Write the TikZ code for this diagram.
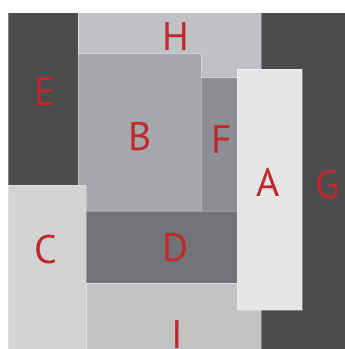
\documentclass[tikz,border=0pt]{standalone}
\usepackage{fontspec}
\setmainfont{PT Sans}
\definecolor{cdark}{HTML}{4B4C4E}
\definecolor{cH}{HTML}{C0C1C4}
\definecolor{cB}{HTML}{A7A8AB}
\definecolor{cF}{HTML}{8E8F92}
\definecolor{cA}{HTML}{E5E6E8}
\definecolor{cC}{HTML}{D2D3D5}
\definecolor{cD}{HTML}{727376}
\definecolor{cI}{HTML}{C2C3C5}
\definecolor{lbl}{HTML}{BE2A2C}
\tikzset{
  blk/.style={fill=#1, draw=white, draw opacity=0.3, line width=0.7bp},
  letter/.style={anchor=base, inner sep=0pt, text=lbl, font=\fontsize{40}{40}\selectfont}
}
\begin{document}
\begin{tikzpicture}[x=1bp,y=-1bp]
\useasboundingbox (0,0) rectangle (345,349);
\clip (0,0) rectangle (345,349);
\fill[white] (0,0) rectangle (345,349);
% background blocks
\path[blk=cH] (78,12.7) rectangle (261,211);
\path[blk=cI] (86.3,283) rectangle (261,352);
\path[blk=cdark] (8,12.7) rectangle (78,185.3);
\path[blk=cdark] (261,12.7) rectangle (350,352);
\path[blk=cB] (78,53.7) rectangle (201,211);
\path[blk=cF] (201,77.7) rectangle (237,211);
\path[blk=cC] (8,185.3) rectangle (86.3,352);
\path[blk=cD] (86.3,211) rectangle (237,283);
\path[blk=cA] (237,69.3) rectangle (302,310);
% labels
\node[letter] (H) at (175.7,50) {H};
\node[letter] (E) at (45.3,105.7) {E};
\node[letter] (B) at (140,150.7) {B};
\node[letter] (F) at (221.5,153.3) {F};
\node[letter] (A) at (267.7,196.7) {A};
\node[letter] (G) at (328,198.3) {G};
\node[letter] (C) at (45.7,263.3) {C};
\node[letter] (D) at (176,261.7) {D};
\node[letter] (I) at (177,348.6) {I};
\end{tikzpicture}
\end{document}
